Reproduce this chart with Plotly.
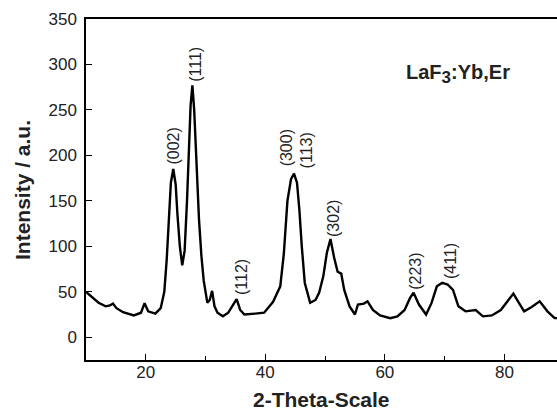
import plotly.graph_objects as go

# 2-theta (degrees) and intensity (a.u.)
two_theta = [10.0, 10.9, 12.1, 13.3, 14.0, 14.5, 15.1, 16.2, 18.0, 19.2, 19.8, 20.4, 21.6, 22.5, 23.1,
             23.5, 23.9, 24.2, 24.6, 25.0, 25.3, 25.7, 26.1, 26.5, 26.9, 27.2, 27.5, 27.8, 28.1,
             28.5, 28.9, 29.3, 29.7, 30.3, 30.7, 31.1, 31.5, 32.0, 32.9, 33.8, 34.7, 35.2, 35.8,
             36.5, 38.3, 39.8, 41.3, 42.5, 43.1, 43.7, 44.3, 44.8, 45.3, 45.7, 46.1, 46.6, 47.5,
             48.4, 49.0, 49.7, 50.3, 50.9, 51.5, 52.1, 52.7, 53.2, 54.1, 55.0, 55.5, 56.5, 57.1,
             58.0, 59.2, 60.9, 62.1, 63.3, 64.2, 64.8, 65.7, 66.9, 67.8, 68.7, 69.6, 70.5, 71.4,
             72.3, 73.5, 75.2, 76.4, 77.9, 79.4, 80.6, 81.5, 82.4, 83.3, 84.5, 85.9, 87.2, 88.4,
             88.8]
intensity = [50, 45, 38, 34, 35, 37, 32, 27.5, 24, 27, 37.5, 28.5, 26, 32, 50,
             85, 140, 170, 185, 168, 135, 100, 79, 95, 150, 200, 255, 277, 250,
             190, 130, 90, 62, 38, 41, 51, 34, 27, 23, 27, 36, 42, 30,
             25, 26, 27, 39, 56, 92, 150, 174, 180, 170, 140, 100, 60, 38,
             41, 49, 67, 93, 108, 88, 72, 70, 52, 34, 25, 36, 37, 39.5,
             30, 24, 21, 23, 30, 43, 49, 36, 25, 37.5, 56, 60, 58, 52,
             34, 28.5, 30, 23, 24, 30, 41, 48, 38, 28.5, 33, 39.5, 28.5, 21,
             21]

# peak (hkl) labels and their positions
peak_labels = ["(002)", "(111)", "(112)", "(300)", "(113)", "(302)", "(223)", "(411)"]
peak_x = [24.6, 28.3, 35.9, 43.5, 46.9, 51.3, 65.2, 71.1]
peak_y = [210, 300, 66, 208, 205, 131, 73, 84]

x_ticks = [20, 40, 60, 80]
y_ticks = [0, 50, 100, 150, 200, 250, 300, 350]

FONT = "Arial, Liberation Sans, sans-serif"
TXT = "#222"

fig = go.Figure()
fig.add_trace(go.Scatter(x=two_theta, y=intensity, mode="lines",
                         line=dict(color="black", width=2.4), showlegend=False))

for lab, xx, yy in zip(peak_labels, peak_x, peak_y):
    fig.add_annotation(x=xx, y=yy, text=lab, textangle=-90, showarrow=False,
                       font=dict(family=FONT, size=16, color=TXT))

fig.add_annotation(x=72.2, y=289,
                   text="<b>LaF<sub><span style='font-size:17px'>3</span></sub>:Yb,Er</b>",
                   showarrow=False, font=dict(family=FONT, size=20, color=TXT))

# axis titles
fig.add_annotation(xref="paper", yref="paper", x=0.5, y=(360 - 400) / 341,
                   text="<b>2-Theta-Scale</b>", showarrow=False, yanchor="middle",
                   font=dict(family=FONT, size=21, color=TXT))
fig.add_annotation(xref="paper", yref="paper", x=(22 - 86) / 471, y=(360 - 190) / 341,
                   text="<b>Intensity / a.u.</b>", showarrow=False, textangle=-90,
                   xanchor="center", yanchor="middle",
                   font=dict(family=FONT, size=21, color=TXT))

fig.update_layout(
    width=557, height=412,
    margin=dict(l=86, r=0, t=19, b=52),
    plot_bgcolor="white", paper_bgcolor="white",
    font=dict(family=FONT, size=17, color=TXT),
)
fig.update_xaxes(
    range=[10, 88.8], tickvals=x_ticks, ticks="inside", ticklen=6, tickwidth=1,
    tickcolor="black", showline=True, linecolor="black", linewidth=1.5, mirror=True,
    showgrid=False, zeroline=False, automargin=False, ticklabelstandoff=-4,
    minor=dict(tickvals=[30, 50, 70], ticks="inside", ticklen=4, tickcolor="black"),
    tickfont=dict(size=17),
)
fig.update_yaxes(
    range=[-25, 350], tickvals=y_ticks, ticks="inside", ticklen=6, tickwidth=1,
    tickcolor="black", showline=True, linecolor="black", linewidth=1.5,
    showgrid=False, zeroline=False, automargin=False, ticklabelstandoff=4,
    tickfont=dict(size=17),
)

fig.write_html("out.html", config={"displayModeBar": False},
               post_script="document.body.style.margin='0';")
